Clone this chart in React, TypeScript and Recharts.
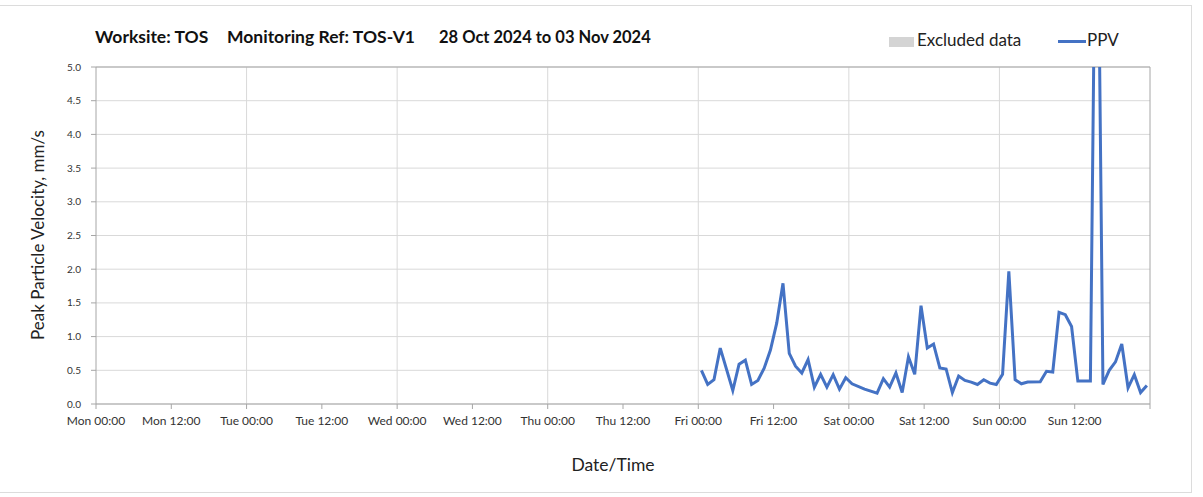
import React from "react";
import {
  LineChart,
  Line,
  XAxis,
  YAxis,
  CartesianGrid,
  ReferenceLine,
} from "recharts";

// Hours since Mon 00:00 (28 Oct 2024)
const ppvHours = [
  96.5, 97.5, 98.5, 99.5, 101.5, 102.5, 103.5, 104.5, 105.5, 106.5, 107.5,
  108.5, 109.5, 110.5, 111.5, 112.5, 113.5, 114.5, 115.5, 116.5, 117.5, 118.5,
  119.5, 120.5, 122.5, 124.5, 125.5, 126.5, 127.5, 128.5, 129.5, 130.5, 131.5,
  132.5, 133.5, 134.5, 135.5, 136.5, 137.5, 138.5, 139.5, 140.5, 141.5, 142.5,
  143.5, 144.5, 145.5, 146.5, 147.5, 148.5, 150.5, 151.5, 152.5, 153.5, 154.5,
  155.5, 156.5, 158.5, 159.5, 160.5, 161.5, 162.5, 163.5, 164.5, 165.5, 166.5,
  167.5,
];
// PPV values, mm/s
const ppvValues = [
  0.5, 0.29, 0.36, 0.83, 0.2, 0.59, 0.65, 0.29, 0.35, 0.53, 0.8,
  1.2, 1.79, 0.75, 0.56, 0.46, 0.66, 0.25, 0.44, 0.25, 0.435, 0.22,
  0.39, 0.3, 0.22, 0.16, 0.375, 0.25, 0.46, 0.17, 0.7, 0.44, 1.46,
  0.83, 0.89, 0.535, 0.52, 0.17, 0.415, 0.35, 0.325, 0.29, 0.36, 0.31,
  0.29, 0.44, 1.97, 0.36, 0.3, 0.325, 0.33, 0.485, 0.475, 1.36, 1.325,
  1.15, 0.34, 0.34, 9.3, 0.29, 0.5, 0.625, 0.89, 0.24, 0.435, 0.17,
  0.275,
];

const xTickValues = [0, 12, 24, 36, 48, 60, 72, 84, 96, 108, 120, 132, 144, 156, 168];
const xTickLabels = [
  "Mon 00:00", "Mon 12:00", "Tue 00:00", "Tue 12:00", "Wed 00:00", "Wed 12:00",
  "Thu 00:00", "Thu 12:00", "Fri 00:00", "Fri 12:00", "Sat 00:00", "Sat 12:00",
  "Sun 00:00", "Sun 12:00", "",
];
const dayBoundaries = [24, 48, 72, 96, 120, 144];
const yTickValues = [0, 0.5, 1, 1.5, 2, 2.5, 3, 3.5, 4, 4.5, 5];

const data = ppvHours.map((h, i) => ({ t: h, ppv: ppvValues[i] }));

const FONT = "Lato, 'Open Sans', sans-serif";
const GRID = "#d9d9d9";
const AXIS = "#a6a6a6";

export default function App() {
  return (
    <div
      style={{
        position: "absolute",
        left: 0,
        top: 0,
        width: 1203,
        height: 497,
        background: "#fff",
        fontFamily: FONT,
      }}
    >
      <div
        style={{
          position: "absolute",
          left: -1,
          top: 5,
          width: 1191,
          height: 486,
          border: "1px solid #dcdcdc",
        }}
      />
      <LineChart
        width={1203}
        height={497}
        data={data}
        margin={{ top: 67, right: 53, bottom: 0, left: 0 }}
      >
        <CartesianGrid vertical={false} stroke={GRID} strokeWidth={1} />
        {dayBoundaries.map((d) => (
          <ReferenceLine key={d} x={d} stroke={GRID} strokeWidth={1} />
        ))}
        <ReferenceLine y={5} stroke={AXIS} strokeWidth={1} />
        <ReferenceLine x={168} stroke={AXIS} strokeWidth={1} />
        <XAxis
          dataKey="t"
          type="number"
          domain={[0, 168]}
          ticks={xTickValues}
          tickFormatter={(v: number) => xTickLabels[Math.round(v / 12)]}
          height={93}
          tickSize={5}
          tickMargin={7}
          stroke={AXIS}
          tick={{ fill: "#333", fontSize: 12, fontFamily: FONT }}
          interval={0}
        />
        <YAxis
          type="number"
          domain={[0, 5]}
          ticks={yTickValues}
          allowDataOverflow
          tickFormatter={(v: number) => v.toFixed(1)}
          width={96}
          tickSize={5}
          tickMargin={10}
          stroke={AXIS}
          tick={{ fill: "#333", fontSize: 10, fontFamily: FONT }}
          interval={0}
        />
        <Line
          type="linear"
          dataKey="ppv"
          stroke="#4472C4"
          strokeWidth={3}
          dot={false}
          isAnimationActive={false}
        />
      </LineChart>

      {/* Title */}
      <div
        style={{
          position: "absolute",
          top: 26,
          left: 95,
          fontWeight: 700,
          color: "#111",
          whiteSpace: "pre",
        }}
      >
        <span style={{ position: "absolute", left: 0, fontSize: 17.5 }}>Worksite: TOS</span>
        <span style={{ position: "absolute", left: 132, fontSize: 17.5 }}>
          Monitoring Ref: TOS-V1
        </span>
        <span style={{ position: "absolute", left: 344, top: 1, fontSize: 16.5 }}>
          28 Oct 2024 to 03 Nov 2024
        </span>
      </div>

      {/* Legend */}
      <div
        style={{
          position: "absolute",
          left: 889,
          top: 37,
          width: 25,
          height: 10,
          background: "#d4d4d4",
        }}
      />
      <div
        style={{
          position: "absolute",
          left: 917,
          top: 29,
          fontSize: 17,
          color: "#222",
          whiteSpace: "pre",
        }}
      >
        Excluded data
      </div>
      <div
        style={{
          position: "absolute",
          left: 1058,
          top: 40,
          width: 28,
          height: 3,
          background: "#4472C4",
        }}
      />
      <div
        style={{
          position: "absolute",
          left: 1087,
          top: 29,
          fontSize: 17,
          color: "#222",
          whiteSpace: "pre",
        }}
      >
        PPV
      </div>

      {/* Y axis label */}
      <div
        style={{
          position: "absolute",
          left: 37,
          top: 235,
          transform: "translate(-50%, -50%) rotate(-90deg)",
          fontSize: 17,
          color: "#222",
          whiteSpace: "pre",
        }}
      >
        Peak Particle Velocity, mm/s
      </div>

      {/* X axis label */}
      <div
        style={{
          position: "absolute",
          left: 613,
          top: 464,
          transform: "translate(-50%, -50%)",
          fontSize: 17.5,
          color: "#222",
          whiteSpace: "pre",
        }}
      >
        Date/Time
      </div>
    </div>
  );
}
